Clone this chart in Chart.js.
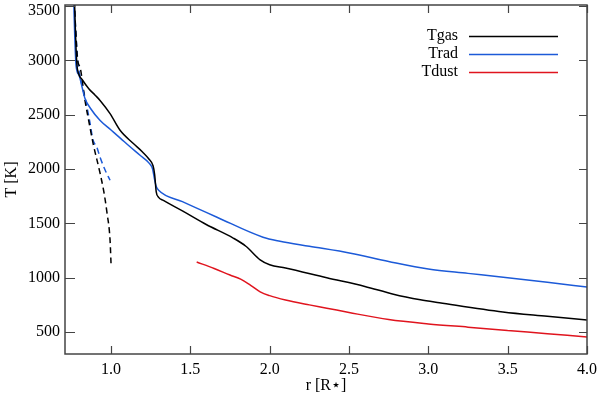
<!DOCTYPE html>
<html>
<head>
<meta charset="utf-8">
<script src="https://cdn.jsdelivr.net/npm/chart.js@4/dist/chart.umd.min.js"></script>
<style>
html,body{margin:0;padding:0;background:#fff;}
#wrap{width:600px;height:397px;position:relative;}
</style>
</head>
<body>
<div id="wrap"><canvas id="c"></canvas></div>
<script>
// ---- data ----
const gasR  = [0.770,0.775,0.780,0.785,0.795,0.82,0.86,0.90,0.931,0.994,1.057,1.141,1.20,1.24,1.265,1.275,1.285,1.30,1.33,1.45,1.60,1.77,1.85,1.94,2.00,2.10,2.36,2.60,2.78,2.95,3.07,3.47,3.75,4.00];
const gasT  = [3550,3300,3100,2960,2880,2820,2740,2680,2632,2510,2357,2235,2155,2090,2030,1950,1790,1740,1712,1615,1490,1365,1290,1165,1120,1090,1000,920,848,797,770,685,645,610];
const radR  = [0.765,0.772,0.780,0.800,0.815,0.836,0.87,0.93,1.00,1.06,1.12,1.183,1.24,1.262,1.275,1.285,1.30,1.45,1.668,1.958,2.065,2.25,2.51,2.75,3.00,3.25,3.50,3.75,4.00];
const radT  = [3550,3200,2950,2860,2770,2650,2560,2450,2360,2283,2205,2127,2055,2000,1900,1840,1805,1700,1557,1373,1336,1290,1226,1150,1080,1040,1000,958,914];
const dustR = [1.54,1.65,1.75,1.82,1.88,1.94,2.00,2.10,2.25,2.36,2.50,2.75,3.00,3.25,3.50,3.75,4.00];
const dustT = [1145,1085,1025,985,930,870,835,795,750,720,680,615,575,545,515,485,455];
const gasDashR = [0.768,0.773,0.79,0.805,0.836,0.868,0.887,0.931,0.955,0.975,0.994,1.000];
const gasDashT = [3550,3395,3000,2936,2632,2380,2237,1962,1790,1594,1346,1134];
const radDashR = [0.768,0.775,0.79,0.81,0.836,0.868,0.887,0.91,0.931,0.96,0.994];
const radDashT = [3550,3350,3000,2820,2660,2421,2265,2203,2109,2000,1897];
const xTicks = [1.0,1.5,2.0,2.5,3.0,3.5,4.0];
const yTicks = [500,1000,1500,2000,2500,3000,3500];
const seriesNames = ['Tgas','Trad','Tdust'];
const seriesColors = ['#000000','#1c5ad8','#e0141e'];

const pts = (xs, ys) => xs.map((x, i) => ({x: x, y: ys[i]}));
const FONT = "'Liberation Serif', 'DejaVu Serif', serif";

const frameTicks = {
  id: 'frameTicks',
  afterDatasetsDraw(chart) {
    const {ctx, chartArea: a, scales: {x, y}} = chart;
    ctx.save();
    ctx.strokeStyle = '#444';
    ctx.lineWidth = 1.5;
    ctx.strokeRect(a.left, a.top, a.right - a.left, a.bottom - a.top);
    ctx.lineWidth = 1.2;
    ctx.beginPath();
    xTicks.forEach(v => {
      const px = Math.round(x.getPixelForValue(v)) + 0.5;
      ctx.moveTo(px, a.bottom); ctx.lineTo(px, a.bottom - 8);
      ctx.moveTo(px, a.top); ctx.lineTo(px, a.top + 8);
    });
    yTicks.forEach(v => {
      const py = Math.round(y.getPixelForValue(v)) + 0.5;
      ctx.moveTo(a.left, py); ctx.lineTo(a.left + 10, py);
      ctx.moveTo(a.right, py); ctx.lineTo(a.right - 8, py);
    });
    ctx.stroke();
    // y tick labels (kept inside the canvas at the top)
    ctx.font = '16px ' + FONT;
    ctx.fillStyle = '#000';
    ctx.textAlign = 'right';
    ctx.textBaseline = 'middle';
    yTicks.forEach(v => {
      const py = Math.max(y.getPixelForValue(v), 11);
      ctx.fillText(String(v), a.left - 5, py);
    });
    // legend: text then line
    seriesNames.forEach((n, i) => {
      const yy = 36 + i * 18;
      ctx.fillStyle = '#000';
      ctx.fillText(n, 458, yy);
      ctx.strokeStyle = seriesColors[i];
      ctx.lineWidth = 1.5;
      ctx.beginPath();
      ctx.moveTo(469, yy + 0.5); ctx.lineTo(558, yy + 0.5);
      ctx.stroke();
    });
    ctx.restore();
  }
};

const common = {showLine: true, pointRadius: 0, borderWidth: 1.5, fill: false, cubicInterpolationMode: 'monotone'};

new Chart(document.getElementById('c'), {
  type: 'scatter',
  data: {
    datasets: [
      Object.assign({label: seriesNames[0], data: pts(gasR, gasT), borderColor: seriesColors[0]}, common),
      Object.assign({label: seriesNames[1], data: pts(radR, radT), borderColor: seriesColors[1]}, common),
      Object.assign({label: seriesNames[2], data: pts(dustR, dustT), borderColor: seriesColors[2]}, common),
      Object.assign({label: 'gas dashed', data: pts(gasDashR, gasDashT), borderColor: seriesColors[0], borderDash: [6, 4]}, common),
      Object.assign({label: 'rad dashed', data: pts(radDashR, radDashT), borderColor: seriesColors[1], borderDash: [6, 4]}, common)
    ]
  },
  options: {
    responsive: true,
    maintainAspectRatio: false,
    animation: false,
    clip: true,
    layout: {padding: {top: 5, right: 13, left: 0, bottom: 0}},
    plugins: {legend: {display: false}, tooltip: {enabled: false}},
    scales: {
      x: {
        type: 'linear', min: 0.71, max: 4.0,
        afterBuildTicks: s => { s.ticks = xTicks.map(v => ({value: v})); },
        afterFit: s => { s.height = 43; s.paddingRight = 0; s.paddingLeft = 0; },
        ticks: {callback: v => Number(v).toFixed(1), color: '#000', font: {family: FONT, size: 16}, padding: 6, maxRotation: 0},
        grid: {display: false, drawTicks: false},
        border: {display: false},
        title: {display: true, text: 'r [R\u22C6]', color: '#000', font: {family: FONT, size: 16}, padding: {top: 0, bottom: 2}}
      },
      y: {
        type: 'linear', min: 298, max: 3510,
        afterBuildTicks: s => { s.ticks = yTicks.map(v => ({value: v})); },
        afterFit: s => { s.width = 65; s.paddingTop = 0; s.paddingBottom = 0; },
        ticks: {display: false},
        grid: {display: false, drawTicks: false},
        border: {display: false},
        title: {display: true, text: 'T [K]', color: '#000', font: {family: FONT, size: 16}, padding: {top: 2, bottom: 0}}
      }
    }
  },
  plugins: [frameTicks]
});
</script>
</body>
</html>
